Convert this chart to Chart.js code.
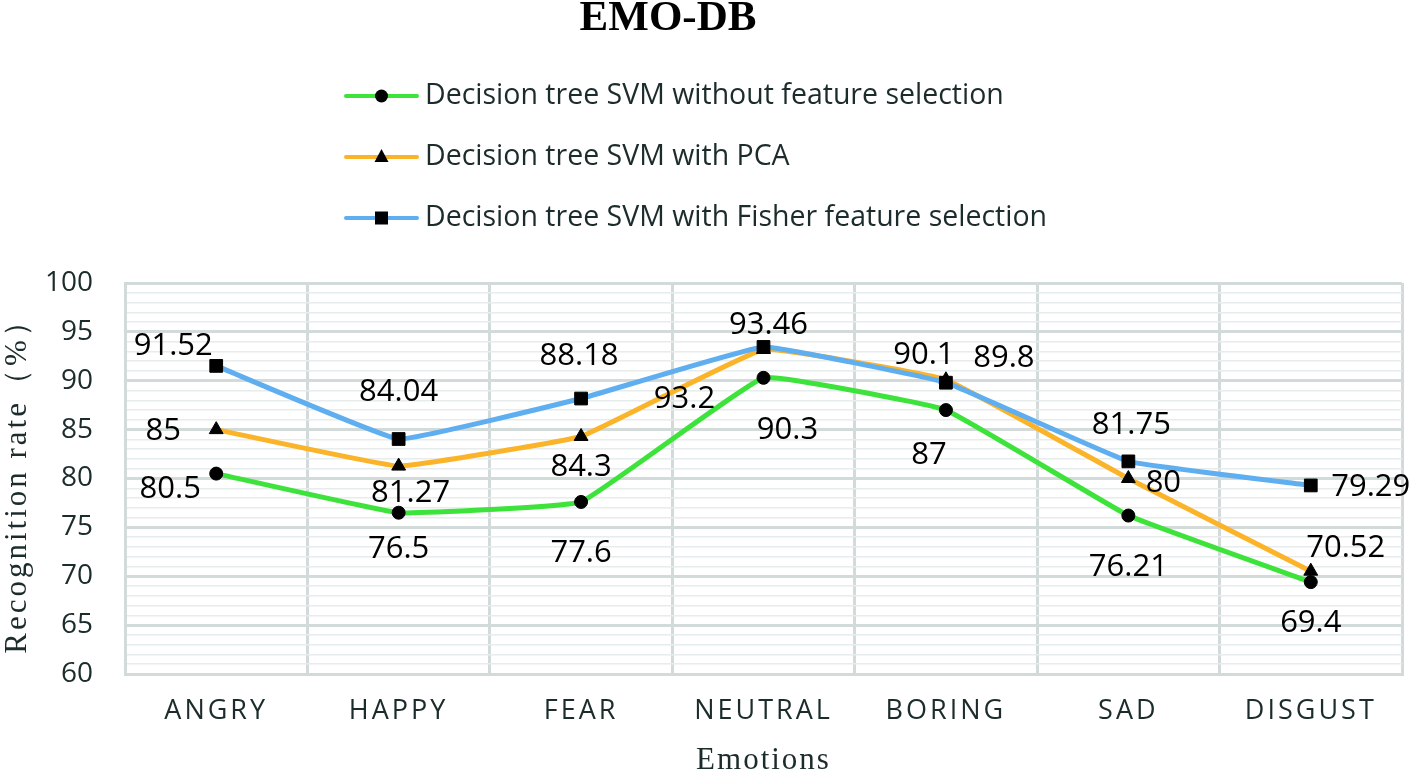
<!DOCTYPE html>
<html>
<head>
<meta charset="utf-8">
<script src="https://cdn.jsdelivr.net/npm/chart.js@4"></script>
<style>
  html, body { margin: 0; padding: 0; background: #fff; }
  #wrap { width: 1418px; height: 772px; }
</style>
</head>
<body>
<div id="wrap"><canvas id="emoChart"></canvas></div>
<script>
// values
const emotions = ['ANGRY', 'HAPPY', 'FEAR', 'NEUTRAL', 'BORING', 'SAD', 'DISGUST'];
const withoutSelection = [80.5, 76.5, 77.6, 90.3, 87, 76.21, 69.4];
const withPCA = [85, 81.27, 84.3, 93.2, 90.1, 80, 70.52];
const withFisher = [91.52, 84.04, 88.18, 93.46, 89.8, 81.75, 79.29];
const seriesNames = [
    'Decision tree SVM without feature selection',
    'Decision tree SVM with PCA',
    'Decision tree SVM with Fisher feature selection'
];

// where each value label sits relative to its point, in px
const greenLabelPos = [[-46, 16], [0, 36], [0, 51], [24, 52], [-17, 45], [0, 52], [0, 41]];
const orangeLabelPos = [[-53, 2], [12, 27], [0, 31], [-79, 50], [-22, -25], [35, 5], [35, -23]];
const blueLabelPos = [[-43, -20], [0, -47], [-2, -42], [5, -22], [58, -25], [3, -36], [60, 2]];

const textColor = '#1c2b2b';
const majorGrid = '#d2dada';
const minorGrid = '#e7ecec';

function drawMarker(ctx, style, x, y) {
    ctx.fillStyle = '#000';
    ctx.beginPath();
    if (style === 'circle') {
        ctx.arc(x, y, 6.5, 0, Math.PI * 2);
    } else if (style === 'triangle') {
        ctx.moveTo(x, y - 8);
        ctx.lineTo(x + 7, y + 5);
        ctx.lineTo(x - 7, y + 5);
        ctx.closePath();
    } else {
        ctx.rect(x - 6.5, y - 6.5, 13, 13);
    }
    ctx.fill();
}

// run a scale's draw step with canvas letter spacing
function spaced(scale, method, spacing) {
    if (scale['_sp_' + method]) return;
    const orig = scale[method];
    scale[method] = function(...args) {
        const c = this.ctx;
        const prev = c.letterSpacing;
        c.letterSpacing = spacing;
        orig.apply(this, args);
        c.letterSpacing = prev || '0px';
    };
    scale['_sp_' + method] = true;
}

const extras = {
    id: 'extras',
    afterLayout(chart) {
        spaced(chart.scales.x, 'drawLabels', '3px');
        spaced(chart.scales.x, 'drawTitle', '2px');
        spaced(chart.scales.y, 'drawTitle', '3px');
    },
    afterDatasetsDraw(chart) {
        const ctx = chart.ctx;
        ctx.save();
        ctx.font = '31px "Open Sans"';
        ctx.fillStyle = '#000';
        ctx.textAlign = 'center';
        ctx.textBaseline = 'middle';
        chart.data.datasets.forEach((ds, i) => {
            const meta = chart.getDatasetMeta(i);
            meta.data.forEach((pt, j) => {
                const off = ds.labelPos[j];
                ctx.fillText(String(ds.data[j]), pt.x + off[0], pt.y + off[1]);
            });
        });
        ctx.restore();
    },
    afterDraw(chart) {
        const ctx = chart.ctx;
        ctx.save();
        // title
        ctx.font = 'bold 43px "Liberation Serif"';
        ctx.fillStyle = '#000';
        ctx.textAlign = 'center';
        ctx.textBaseline = 'middle';
        ctx.fillText('EMO-DB', 668, 19);
        // legend, one entry per row
        ctx.font = '28.5px "Open Sans"';
        ctx.textAlign = 'left';
        chart.data.datasets.forEach((ds, i) => {
            const y = 96 + i * 61;
            ctx.strokeStyle = ds.borderColor;
            ctx.lineWidth = 4;
            ctx.lineCap = 'round';
            ctx.beginPath();
            ctx.moveTo(346, y);
            ctx.lineTo(417, y);
            ctx.stroke();
            drawMarker(ctx, ds.pointStyle, 381.5, y);
            ctx.fillStyle = textColor;
            ctx.fillText(ds.label, 425, y);
        });
        ctx.restore();
    }
};

const ctx = document.getElementById('emoChart').getContext('2d');

const emoChart = new Chart(ctx, {
    type: 'line',
    data: {
        labels: emotions,
        datasets: [{
            label: seriesNames[0],
            data: withoutSelection,
            labelPos: greenLabelPos,
            borderColor: '#3de33a',
            pointStyle: 'circle',
            pointRadius: 6.5,
            order: 0
        }, {
            label: seriesNames[1],
            data: withPCA,
            labelPos: orangeLabelPos,
            borderColor: '#fbb429',
            pointStyle: 'triangle',
            pointRadius: 8,
            order: 2
        }, {
            label: seriesNames[2],
            data: withFisher,
            labelPos: blueLabelPos,
            borderColor: '#5eaef0',
            pointStyle: 'rect',
            pointRadius: 9,
            order: 1
        }]
    },
    options: {
        responsive: true,
        maintainAspectRatio: false,
        animation: false,
        layout: { padding: { top: 283, right: 16 } },
        elements: {
            line: { borderWidth: 5, tension: 0.08, fill: false }
        },
        datasets: {
            line: { pointBackgroundColor: '#000', pointBorderColor: '#000', pointBorderWidth: 1 }
        },
        plugins: {
            legend: { display: false },
            tooltip: { enabled: false },
            title: { display: false }
        },
        scales: {
            x: {
                offset: true,
                grid: { offset: true, color: majorGrid, lineWidth: 3, drawTicks: false },
                border: { color: majorGrid, width: 3 },
                ticks: {
                    padding: 21,
                    color: textColor,
                    font: { family: '"Open Sans"', size: 27 }
                },
                title: {
                    display: true,
                    text: 'Emotions',
                    color: textColor,
                    font: { family: '"Liberation Serif"', size: 31, lineHeight: 0.7 },
                    padding: 0
                },
                afterFit: s => { s.height = 98; }
            },
            y: {
                min: 60,
                max: 100,
                grid: {
                    drawTicks: false,
                    color: c => (c.tick && c.tick.value % 5 === 0) ? majorGrid : minorGrid,
                    lineWidth: c => (c.tick && c.tick.value % 5 === 0) ? 3 : 1.5
                },
                border: { color: majorGrid, width: 3 },
                ticks: {
                    stepSize: 1,
                    autoSkip: false,
                    padding: 32,
                    color: textColor,
                    font: { family: '"Open Sans"', size: 28 },
                    callback: v => (v % 5 === 0 ? v : '')
                },
                title: {
                    display: true,
                    text: 'Recognition rate（%）',
                    color: textColor,
                    font: { family: '"Liberation Serif"', size: 31, lineHeight: 1 },
                    padding: { top: 2, bottom: 0 }
                },
                afterFit: s => { s.width = 125; }
            }
        }
    },
    plugins: [extras]
});
</script>
</body>
</html>
